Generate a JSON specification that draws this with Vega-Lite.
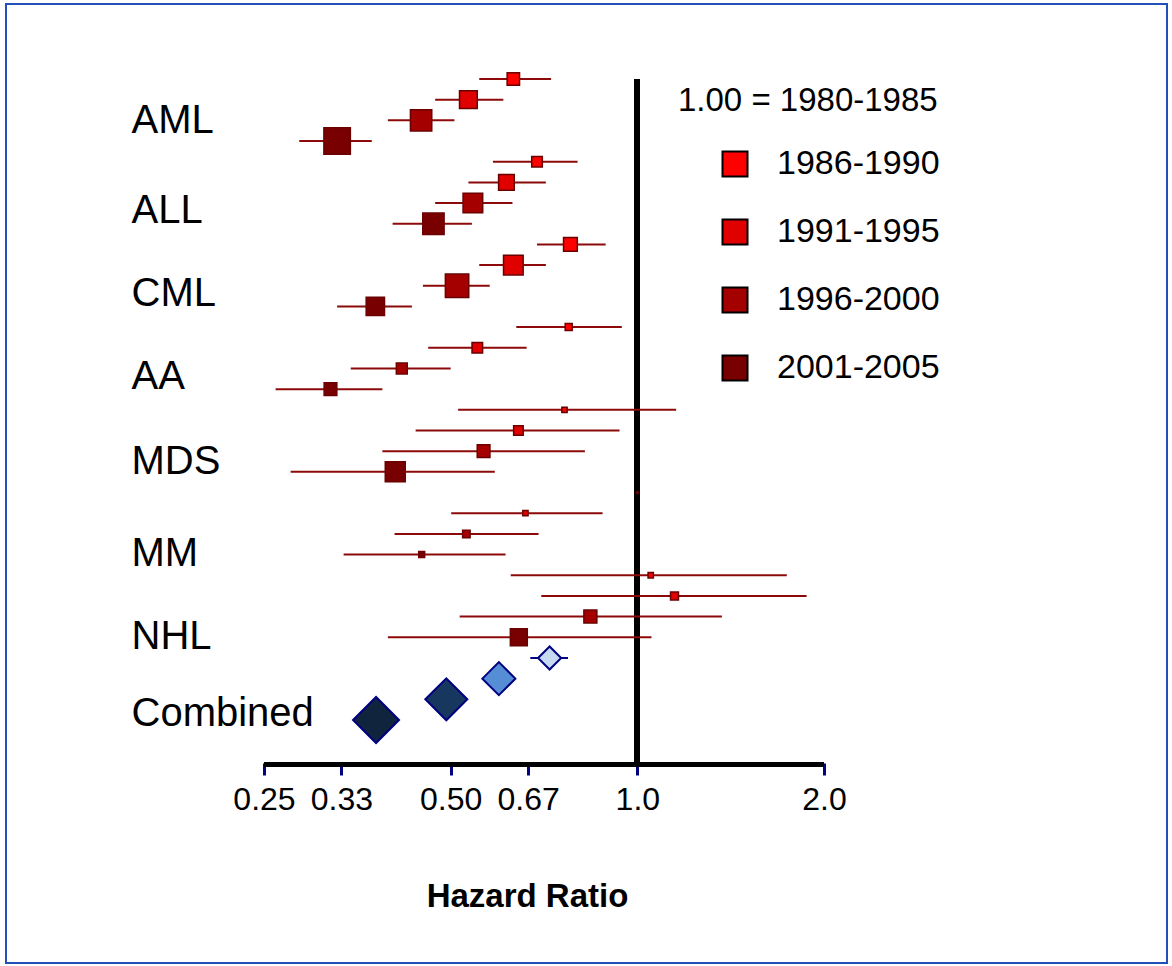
{
  "$schema": "https://vega.github.io/schema/vega-lite/v6.json",
  "width": 1161,
  "height": 959,
  "autosize": {"type": "none"},
  "padding": {"left": 6, "top": 4, "right": 5, "bottom": 3},
  "background": "white",
  "config": {
    "font": "Liberation Sans",
    "view": {"stroke": "#2350b8", "strokeWidth": 2},
    "axis": {"grid": false}
  },
  "datasets": {
    "forest": [
      {"disease": "AML", "period": "1986-1990", "row": 0, "hr": 0.631, "lo": 0.556, "hi": 0.726, "weight": 22},
      {"disease": "AML", "period": "1991-1995", "row": 1, "hr": 0.534, "lo": 0.472, "hi": 0.608, "weight": 45},
      {"disease": "AML", "period": "1996-2000", "row": 2, "hr": 0.448, "lo": 0.396, "hi": 0.507, "weight": 65},
      {"disease": "AML", "period": "2001-2005", "row": 3, "hr": 0.328, "lo": 0.285, "hi": 0.373, "weight": 100},
      {"disease": "ALL", "period": "1986-1990", "row": 4, "hr": 0.689, "lo": 0.585, "hi": 0.801, "weight": 16},
      {"disease": "ALL", "period": "1991-1995", "row": 5, "hr": 0.615, "lo": 0.534, "hi": 0.712, "weight": 35},
      {"disease": "ALL", "period": "1996-2000", "row": 6, "hr": 0.543, "lo": 0.472, "hi": 0.629, "weight": 55},
      {"disease": "ALL", "period": "2001-2005", "row": 7, "hr": 0.469, "lo": 0.403, "hi": 0.541, "weight": 65},
      {"disease": "CML", "period": "1986-1990", "row": 8, "hr": 0.780, "lo": 0.689, "hi": 0.889, "weight": 27},
      {"disease": "CML", "period": "1991-1995", "row": 9, "hr": 0.631, "lo": 0.556, "hi": 0.712, "weight": 55},
      {"disease": "CML", "period": "1996-2000", "row": 10, "hr": 0.512, "lo": 0.451, "hi": 0.578, "weight": 78},
      {"disease": "CML", "period": "2001-2005", "row": 11, "hr": 0.378, "lo": 0.328, "hi": 0.433, "weight": 48},
      {"disease": "AA", "period": "1986-1990", "row": 12, "hr": 0.775, "lo": 0.638, "hi": 0.944, "weight": 7},
      {"disease": "AA", "period": "1991-1995", "row": 13, "hr": 0.552, "lo": 0.460, "hi": 0.663, "weight": 16},
      {"disease": "AA", "period": "1996-2000", "row": 14, "hr": 0.417, "lo": 0.345, "hi": 0.500, "weight": 17},
      {"disease": "AA", "period": "2001-2005", "row": 15, "hr": 0.320, "lo": 0.261, "hi": 0.388, "weight": 23},
      {"disease": "MDS", "period": "1986-1990", "row": 16, "hr": 0.763, "lo": 0.514, "hi": 1.155, "weight": 4},
      {"disease": "MDS", "period": "1991-1995", "row": 17, "hr": 0.643, "lo": 0.439, "hi": 0.936, "weight": 13},
      {"disease": "MDS", "period": "1996-2000", "row": 18, "hr": 0.565, "lo": 0.388, "hi": 0.823, "weight": 23},
      {"disease": "MDS", "period": "2001-2005", "row": 19, "hr": 0.407, "lo": 0.276, "hi": 0.589, "weight": 57},
      {"disease": "MM", "period": "1986-1990", "row": 20, "hr": 1.0, "lo": null, "hi": null, "weight": 0.3},
      {"disease": "MM", "period": "1991-1995", "row": 21, "hr": 0.660, "lo": 0.501, "hi": 0.879, "weight": 4},
      {"disease": "MM", "period": "1996-2000", "row": 22, "hr": 0.530, "lo": 0.406, "hi": 0.693, "weight": 8},
      {"disease": "MM", "period": "2001-2005", "row": 23, "hr": 0.449, "lo": 0.336, "hi": 0.613, "weight": 5},
      {"disease": "NHL", "period": "1986-1990", "row": 24, "hr": 1.051, "lo": 0.625, "hi": 1.742, "weight": 4},
      {"disease": "NHL", "period": "1991-1995", "row": 25, "hr": 1.148, "lo": 0.700, "hi": 1.875, "weight": 9},
      {"disease": "NHL", "period": "1996-2000", "row": 26, "hr": 0.840, "lo": 0.517, "hi": 1.369, "weight": 24},
      {"disease": "NHL", "period": "2001-2005", "row": 27, "hr": 0.644, "lo": 0.396, "hi": 1.054, "weight": 41},
      {"disease": "Combined", "period": "1986-1990", "row": 28, "hr": 0.722, "lo": 0.672, "hi": 0.773, "weight": 76},
      {"disease": "Combined", "period": "1991-1995", "row": 29, "hr": 0.598, "lo": null, "hi": null, "weight": 156},
      {"disease": "Combined", "period": "1996-2000", "row": 30, "hr": 0.492, "lo": null, "hi": null, "weight": 252},
      {"disease": "Combined", "period": "2001-2005", "row": 31, "hr": 0.379, "lo": null, "hi": null, "weight": 302}
    ]
  },
  "data": {"name": "forest"},
  "layer": [
    {
      "mark": {"type": "rule", "color": "black", "strokeWidth": 5},
      "encoding": {
        "x": {"datum": 1, "type": "quantitative", "scale": {"type": "log", "domain": [0.09591, 7.148], "nice": false, "zero": false}},
        "y": {"datum": 0, "type": "quantitative", "scale": {"domain": [-3.627, 42.753], "reverse": true, "nice": false, "zero": false}},
        "y2": {"datum": 33.15}
      }
    },
    {
      "mark": {"type": "rule", "color": "black", "strokeWidth": 4},
      "encoding": {
        "x": {"datum": 0.25, "type": "quantitative", "scale": {"type": "log", "domain": [0.09591, 7.148], "nice": false, "zero": false},
          "axis": {
            "orient": "bottom", "offset": -200, "domain": false, "grid": false,
            "values": [0.25, 0.3333, 0.5, 0.6667, 1, 2],
            "labelExpr": "datum.value < 0.3 ? '0.25' : datum.value < 0.4 ? '0.33' : datum.value < 0.6 ? '0.50' : datum.value < 0.8 ? '0.67' : datum.value < 1.5 ? '1.0' : '2.0'",
            "ticks": true, "tickColor": "#000080", "tickWidth": 3, "tickSize": 12,
            "labelFontSize": 32, "labelColor": "black", "labelPadding": 9, "labelFlush": false, "labelOverlap": false, "labelBound": false,
            "title": "Hazard Ratio", "titleFontSize": 33, "titleFontWeight": "bold", "titleColor": "black",
            "titleX": 521, "titleY": 133, "titleAlign": "center", "titleBaseline": "middle", "titleAnchor": null
          }
        },
        "x2": {"datum": 2},
        "y": {"datum": 33.15, "type": "quantitative", "scale": {"domain": [-3.627, 42.753], "reverse": true, "nice": false, "zero": false},
          "axis": {
            "orient": "left", "offset": -125, "domain": false, "grid": false, "ticks": false, "tickSize": 0,
            "values": [2.0, 6.35, 10.37, 14.4, 18.5, 22.95, 26.97, 30.7],
            "labelExpr": "datum.value < 4 ? 'AML' : datum.value < 8 ? 'ALL' : datum.value < 12 ? 'CML' : datum.value < 16 ? 'AA' : datum.value < 20 ? 'MDS' : datum.value < 25 ? 'MM' : datum.value < 29 ? 'NHL' : 'Combined'",
            "labelAlign": "left", "labelBaseline": "middle", "labelPadding": 0, "labelFontSize": 40, "labelColor": "black", "labelLimit": 600,
            "labelFlush": false, "labelOverlap": false, "labelBound": false, "title": null
          }
        }
      }
    },
    {
      "transform": [{"filter": "datum.disease != 'Combined' && isValid(datum.lo)"}],
      "mark": {"type": "rule", "color": "#8c0a0a", "strokeWidth": 2},
      "encoding": {
        "x": {"field": "lo", "type": "quantitative", "scale": {"type": "log", "domain": [0.09591, 7.148], "nice": false, "zero": false}},
        "x2": {"field": "hi"},
        "y": {"field": "row", "type": "quantitative", "scale": {"domain": [-3.627, 42.753], "reverse": true, "nice": false, "zero": false}}
      }
    },
    {
      "transform": [{"filter": "datum.disease != 'Combined'"}],
      "mark": {"type": "point", "shape": "square", "filled": true, "opacity": 1, "stroke": "#6a0000", "strokeWidth": 1.5},
      "encoding": {
        "x": {"field": "hr", "type": "quantitative", "scale": {"type": "log", "domain": [0.09591, 7.148], "nice": false, "zero": false}},
        "y": {"field": "row", "type": "quantitative", "scale": {"domain": [-3.627, 42.753], "reverse": true, "nice": false, "zero": false}},
        "size": {"field": "weight", "type": "quantitative", "scale": {"domain": [0, 100], "range": [0, 700], "zero": true}, "legend": null},
        "color": {
          "field": "period", "type": "nominal",
          "scale": {"domain": ["1986-1990", "1991-1995", "1996-2000", "2001-2005"], "range": ["#ff0000", "#e00000", "#a50000", "#780000"]},
          "legend": {
            "orient": "none", "legendX": 672, "legendY": 81, "padding": 0,
            "title": "1.00 = 1980-1985", "titleFontSize": 33, "titleFontWeight": "normal", "titleColor": "black", "titlePadding": 29, "titleLimit": 500,
            "labelFontSize": 34, "labelColor": "black", "labelLimit": 500, "labelOffset": 25,
            "symbolType": "square", "symbolSize": 625, "symbolStrokeColor": "black", "symbolStrokeWidth": 2, "symbolOffset": 40, "symbolOpacity": 1,
            "rowPadding": 34
          }
        }
      }
    },
    {
      "transform": [{"filter": "datum.disease == 'Combined' && isValid(datum.lo)"}],
      "mark": {"type": "rule", "color": "#000080", "strokeWidth": 2},
      "encoding": {
        "x": {"field": "lo", "type": "quantitative", "scale": {"type": "log", "domain": [0.09591, 7.148], "nice": false, "zero": false}},
        "x2": {"field": "hi"},
        "y": {"field": "row", "type": "quantitative", "scale": {"domain": [-3.627, 42.753], "reverse": true, "nice": false, "zero": false}}
      }
    },
    {
      "transform": [{"filter": "datum.disease == 'Combined'"}],
      "mark": {"type": "point", "shape": "diamond", "filled": true, "opacity": 1, "stroke": "#000080", "strokeWidth": 2},
      "encoding": {
        "x": {"field": "hr", "type": "quantitative", "scale": {"type": "log", "domain": [0.09591, 7.148], "nice": false, "zero": false}},
        "y": {"field": "row", "type": "quantitative", "scale": {"domain": [-3.627, 42.753], "reverse": true, "nice": false, "zero": false}},
        "size": {"field": "weight", "type": "quantitative", "scale": {"domain": [0, 100], "range": [0, 700], "zero": true}, "legend": null},
        "fill": {
          "field": "period", "type": "nominal",
          "scale": {"domain": ["1986-1990", "1991-1995", "1996-2000", "2001-2005"], "range": ["#c6d9f1", "#558ed5", "#17375e", "#10243e"]},
          "legend": null
        }
      }
    }
  ]
}
